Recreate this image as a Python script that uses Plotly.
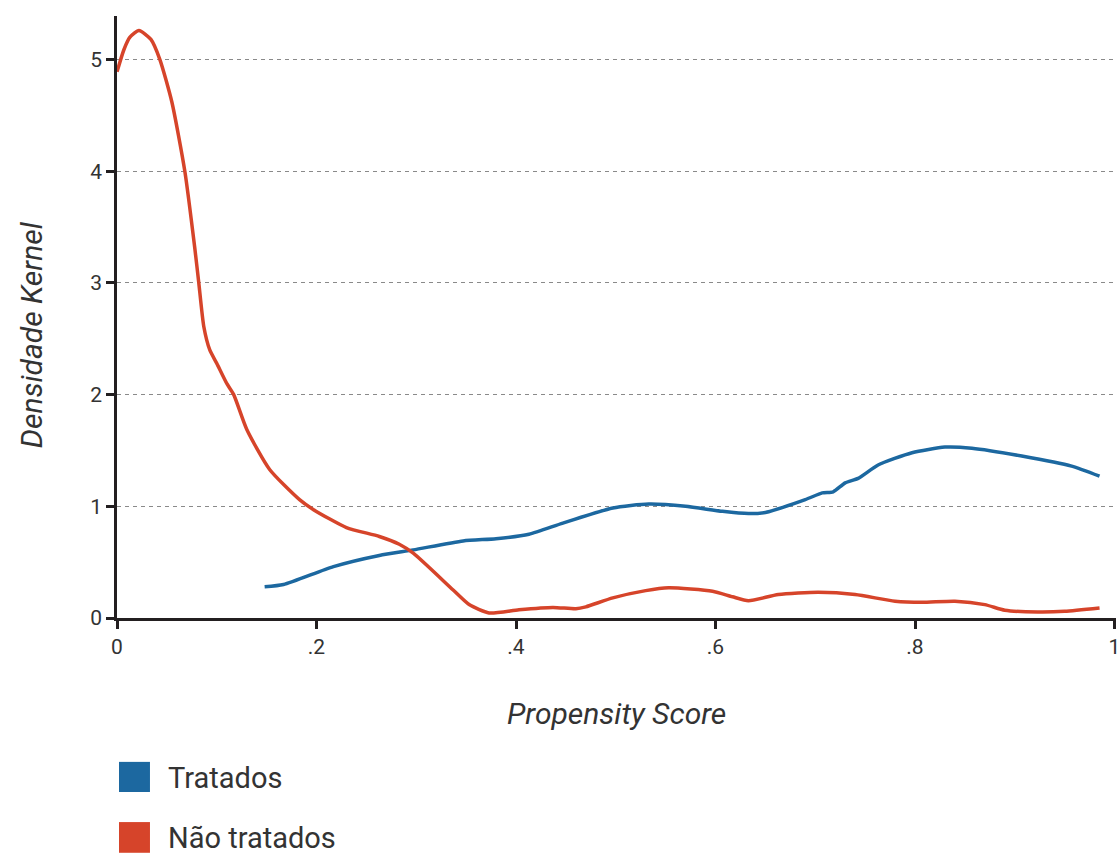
import plotly.graph_objects as go

# Kernel density of the propensity score, treated group
tratados_x = [0.148, 0.167, 0.217, 0.263, 0.297, 0.347, 0.38, 0.413, 0.447, 0.497,
              0.533, 0.57, 0.607, 0.633, 0.65, 0.69, 0.707, 0.718, 0.73, 0.743,
              0.763, 0.797, 0.83, 0.857, 0.907, 0.957, 0.985]
tratados_y = [0.28, 0.30, 0.46, 0.56, 0.61, 0.69, 0.71, 0.75, 0.85, 0.985,
              1.02, 1.0, 0.955, 0.935, 0.945, 1.06, 1.12, 1.13, 1.21, 1.25,
              1.37, 1.48, 1.53, 1.52, 1.45, 1.36, 1.27]

# Kernel density of the propensity score, untreated group
nao_x = [0.0, 0.007, 0.013, 0.022, 0.034, 0.043, 0.055, 0.068, 0.078, 0.082,
         0.087, 0.093, 0.1, 0.11, 0.117, 0.13, 0.153, 0.183, 0.197, 0.23,
         0.263, 0.283, 0.297, 0.337, 0.353, 0.373, 0.403, 0.437, 0.46, 0.47,
         0.497, 0.53, 0.553, 0.597, 0.617, 0.633, 0.663, 0.703, 0.74, 0.78,
         0.807, 0.84, 0.87, 0.89, 0.923, 0.95, 0.985]
nao_y = [4.89, 5.09, 5.2, 5.26, 5.18, 5.0, 4.62, 4.0, 3.31, 3.0,
         2.61, 2.40, 2.28, 2.10, 2.0, 1.69, 1.33, 1.06, 0.97, 0.81,
         0.73, 0.66, 0.58, 0.25, 0.12, 0.045, 0.074, 0.095, 0.083, 0.10,
         0.18, 0.245, 0.27, 0.24, 0.19, 0.155, 0.21, 0.23, 0.21, 0.15,
         0.14, 0.15, 0.12, 0.07, 0.054, 0.06, 0.09]

x_ticks = [0, 0.2, 0.4, 0.6, 0.8, 1]
x_tick_labels = ["0", ".2", ".4", ".6", ".8", "1"]
y_ticks = [0, 1, 2, 3, 4, 5]

BLUE = "#1c68a0"
RED = "#d6442a"
TEXT = "#333333"
FONT = "Roboto"

fig = go.Figure()
fig.add_trace(go.Scatter(x=tratados_x, y=tratados_y, mode="lines", name="Tratados",
                         line=dict(color=BLUE, width=3.5, shape="spline", smoothing=0.6),
                         showlegend=False))
fig.add_trace(go.Scatter(x=nao_x, y=nao_y, mode="lines", name="Não tratados",
                         line=dict(color=RED, width=3.5, shape="spline", smoothing=0.6),
                         showlegend=False))

axis_common = dict(showline=True, linecolor="#231f20", linewidth=2.5,
                   ticks="outside", ticklen=8, tickwidth=2.5, tickcolor="#231f20",
                   tickfont=dict(family=FONT, size=21, color=TEXT), zeroline=False,
                   ticklabeloverflow="allow", automargin=False)

fig.update_xaxes(range=[0, 1.0015], tickvals=x_ticks, ticktext=x_tick_labels,
                 showgrid=False, **axis_common)
fig.update_yaxes(range=[0, 5.39], tickvals=y_ticks, showgrid=True,
                 gridcolor="#8a8a8a", gridwidth=1.3, griddash="4px,4px",
                 **axis_common)

# Legend drawn as swatches plus labels below the plot
legend_items = [("Tratados", BLUE, -0.239, -0.289, -0.265),
                ("Não tratados", RED, -0.339, -0.390, -0.365)]
for label, color, y0, y1, ytxt in legend_items:
    fig.add_shape(type="rect", xref="paper", yref="paper", x0=0.002, x1=0.033,
                  y0=y1, y1=y0, fillcolor=color, line=dict(width=0))
    fig.add_annotation(text=label, xref="paper", yref="paper", x=0.049, y=ytxt,
                       xanchor="left", yanchor="middle", showarrow=False,
                       font=dict(family=FONT, size=29, color=TEXT))

fig.add_annotation(text="<i>Propensity Score</i>", xref="paper", yref="paper",
                   x=0.5, y=-0.158, xanchor="center", yanchor="middle", showarrow=False,
                   font=dict(family=FONT, size=30, color=TEXT))
fig.add_annotation(text="<i>Densidade Kernel</i>", xref="paper", yref="paper",
                   x=-0.086, y=0.47, xanchor="center", yanchor="middle", showarrow=False,
                   textangle=-90, font=dict(family=FONT, size=30, color=TEXT))

fig.update_layout(width=1120, height=856, margin=dict(l=117, r=4, t=16, b=238),
                  paper_bgcolor="white", plot_bgcolor="white")

fig.write_html("out.html")
